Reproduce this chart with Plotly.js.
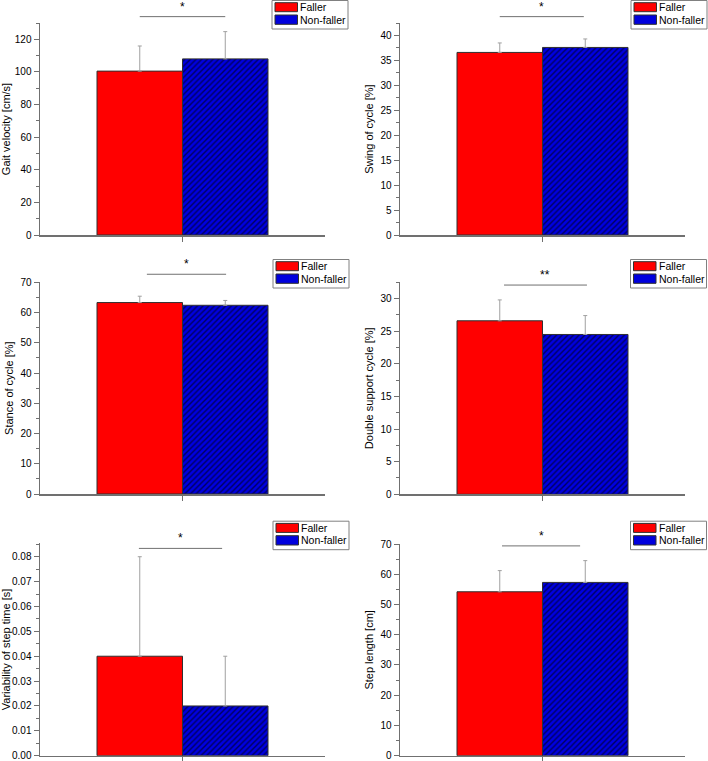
<!DOCTYPE html>
<html>
<head>
<meta charset="utf-8">
<script src="https://cdn.plot.ly/plotly-3.0.1.min.js"></script>
<style>
html,body{margin:0;padding:0;background:#fff;}
#chart{width:708px;height:761px;}
</style>
</head>
<body>
<div id="chart"></div>
<script>
// ---- data ----
const groups = ['Faller', 'Non-faller'];
const metricTitles = ['Gait velocity [cm/s]', 'Swing of cycle [%]', 'Stance of cycle [%]',
                      'Double support cycle [%]', 'Variability of step time [s]', 'Step length [cm]'];
const fallerMean = [100.5, 36.6, 63.3, 26.6, 0.040, 54.2];
const fallerSD = [15.4, 1.9, 2.1, 3.2, 0.040, 7.0];
const nonFallerMean = [108.0, 37.6, 62.4, 24.5, 0.020, 57.3];
const nonFallerSD = [16.7, 1.7, 1.6, 2.9, 0.020, 7.2];
const significance = ['*', '*', '*', '**', '*', '*'];
const yMax = [130, 42.5, 70, 32.5, 0.0854, 70];
const yMajorStep = [20, 5, 10, 5, 0.01, 10];
const yTickFormat = ['', '', '', '', '.2f', ''];

// ---- layout helpers (positions/styles) ----
const W = 708, H = 761;
const xDom = [[40 / W, 325 / W], [400 / W, 685 / W]];
const yDomPx = [[23, 235], [23, 235], [282.3, 494], [282.3, 494.3], [543.3, 755.7], [544, 755.7]];
const sigLine = [[0.35, 0.65, 1.030], [0.35, 0.645, 1.030], [0.375, 0.653, 1.038],
                 [0.365, 0.656, 0.987], [0.347, 0.639, 0.976], [0.358, 0.632, 0.991]];
// legend box top-left corner in pixels
const legendBoxPx = [[272, 0], [631, 0], [273, 259], [630.5, 259], [273, 520.7], [630.5, 520.7]];
const FONT = 'Arial, "Liberation Sans", sans-serif';
const axisGray = '#707070';
const barPos = [-0.3, 0.3];
const barWidth = 0.6;
const groupColors = ['#ff0000', '#0000dd'];

const traces = [];
const layout = {
  width: W, height: H,
  margin: {l: 0, r: 0, t: 0, b: 0},
  paper_bgcolor: '#fff', plot_bgcolor: '#fff',
  font: {family: FONT, color: '#000', size: 10},
  barmode: 'overlay',
  showlegend: false,
  shapes: [], annotations: []
};
const px = v => v / W;
const py = v => 1 - v / H;

for (let i = 0; i < 6; i++) {
  const n = i + 1;
  const xa = n === 1 ? 'x' : 'x' + n;
  const ya = n === 1 ? 'y' : 'y' + n;
  const col = i % 2;

  traces.push({
    type: 'bar', name: groups[0], x: [barPos[0]], y: [fallerMean[i]], width: [barWidth],
    xaxis: xa, yaxis: ya,
    marker: {color: groupColors[0], line: {color: '#303030', width: 1}},
    error_y: {type: 'data', symmetric: false, array: [fallerSD[i]], arrayminus: [0],
              color: '#a0a0a0', thickness: 1, width: 2},
    hoverinfo: 'skip'
  });
  traces.push({
    type: 'bar', name: groups[1], x: [barPos[1]], y: [nonFallerMean[i]], width: [barWidth],
    xaxis: xa, yaxis: ya,
    marker: {color: groupColors[1], line: {color: '#303030', width: 1},
             pattern: {shape: '/', fillmode: 'replace', bgcolor: '#0000e0', fgcolor: '#000060',
                       size: 4, solidity: 0.35}},
    error_y: {type: 'data', symmetric: false, array: [nonFallerSD[i]], arrayminus: [0],
              color: '#a0a0a0', thickness: 1, width: 2},
    hoverinfo: 'skip'
  });

  const xkey = n === 1 ? 'xaxis' : 'xaxis' + n;
  const ykey = n === 1 ? 'yaxis' : 'yaxis' + n;
  layout[xkey] = {
    domain: xDom[col], anchor: ya, range: [-1, 1], fixedrange: true,
    showgrid: false, zeroline: false, showline: true, linecolor: axisGray, linewidth: 1.5,
    tickvals: [0], ticks: 'outside', ticklen: 5, tickcolor: axisGray, tickwidth: 1,
    showticklabels: false
  };
  layout[ykey] = {
    domain: [1 - yDomPx[i][1] / H, 1 - yDomPx[i][0] / H], anchor: xa,
    range: [0, yMax[i]], fixedrange: true,
    showgrid: false, zeroline: false, showline: true, linecolor: axisGray, linewidth: 1.5,
    dtick: yMajorStep[i], tick0: 0, ticks: 'outside', ticklen: 5, tickcolor: axisGray, tickwidth: 1,
    tickformat: yTickFormat[i], tickfont: {size: 10, family: FONT, color: '#000'},
    ticklabeloverflow: 'allow',
    minor: {dtick: yMajorStep[i] / 2, ticks: 'outside', ticklen: 3, tickcolor: axisGray, tickwidth: 1},
    automargin: false,
    title: {text: metricTitles[i], font: {size: 11, family: FONT, color: '#000'}, standoff: 4}
  };

  // significance bracket
  const xd = xa + ' domain';
  const yd = ya + ' domain';
  const s = sigLine[i];
  layout.shapes.push({type: 'line', xref: xd, yref: yd, x0: s[0], x1: s[1], y0: s[2], y1: s[2],
                      line: {color: '#707070', width: 1}});
  layout.annotations.push({xref: xd, yref: yd, x: (s[0] + s[1]) / 2, y: s[2], yanchor: 'bottom',
                           xanchor: 'center', text: significance[i], showarrow: false,
                           font: {size: 12, family: FONT, color: '#000'}, yshift: 1});

  // legend box
  const L = legendBoxPx[i][0], T = legendBoxPx[i][1];
  layout.shapes.push({type: 'rect', xref: 'paper', yref: 'paper',
                      x0: px(L), x1: px(L + 76), y0: py(T + 0.5), y1: py(T + 29),
                      line: {color: '#808080', width: 1}, fillcolor: '#fff', layer: 'above'});
  const rows = [[2.7, 11.7, 7.2], [15, 24.3, 19.7]];
  for (let g = 0; g < 2; g++) {
    layout.shapes.push({type: 'rect', xref: 'paper', yref: 'paper',
                        x0: px(L + 3), x1: px(L + 25.5), y0: py(T + rows[g][0]), y1: py(T + rows[g][1]),
                        line: {color: '#303030', width: 1}, fillcolor: groupColors[g], layer: 'above'});
    layout.annotations.push({xref: 'paper', yref: 'paper', x: px(L + 27), y: py(T + rows[g][2]),
                             xanchor: 'left', yanchor: 'middle', text: groups[g], showarrow: false,
                             borderpad: 0,
                             font: {size: 10.5, family: FONT, color: '#000'}});
  }
}

Plotly.newPlot('chart', traces, layout, {displayModeBar: false, staticPlot: true});
</script>
</body>
</html>
